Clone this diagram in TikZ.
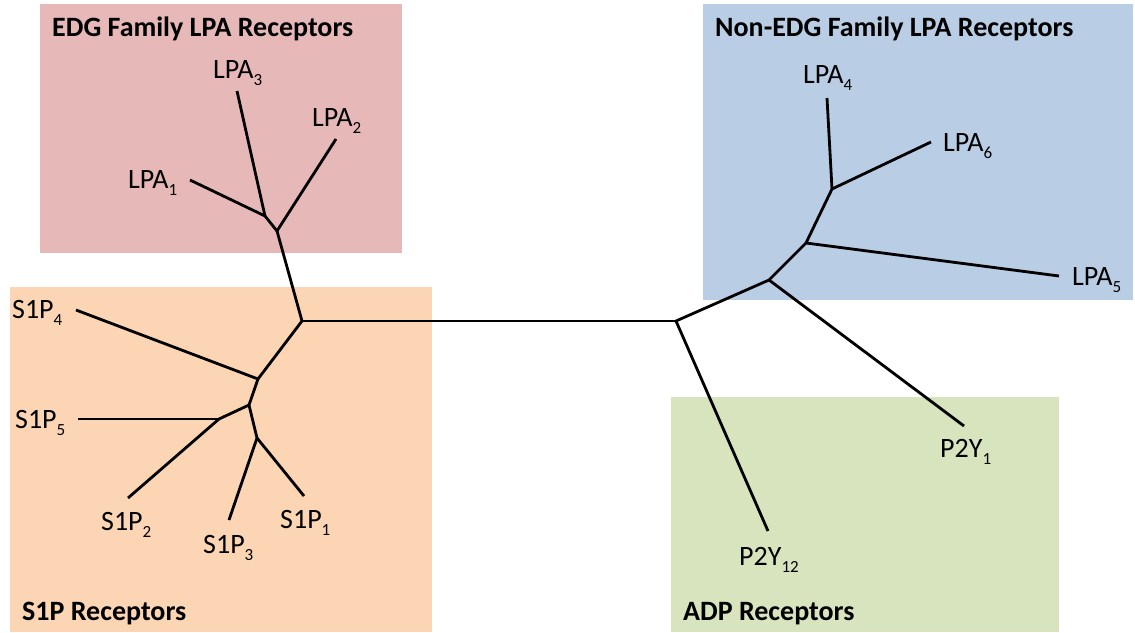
\documentclass[tikz,border=0pt]{standalone}
\usepackage{fontspec}
\setmainfont{Carlito}
\newcommand\lsub[1]{\raisebox{-0.26em}{\fontsize{17}{17}\selectfont #1}}
\definecolor{edgpink}{HTML}{E6B9B8}
\definecolor{s1porange}{HTML}{FCD5B5}
\definecolor{nonblue}{HTML}{B9CDE5}
\definecolor{adpgreen}{HTML}{D7E4BD}
\begin{document}
\begin{tikzpicture}[x=1pt,y=-1pt,
  lbl/.style={anchor=base west,inner sep=0pt,font=\fontsize{28}{32}\selectfont},
  ttl/.style={anchor=base west,inner sep=0pt,font=\fontsize{28}{32}\selectfont\bfseries},
  branch/.style={line width=2.8pt,line join=round}]
\useasboundingbox (0,0) rectangle (1135,632);
% boxes
\fill[edgpink] (40,4) rectangle (402,253);
\fill[s1porange] (10,287) rectangle (432,632);
\fill[nonblue] (703,4) rectangle (1133,300);
\fill[adpgreen] (671,397) rectangle (1059,632);
% titles
\node[ttl] (tEDG) at (52,36) {EDG Family LPA Receptors};
\node[ttl] (tNon) at (715,36) {Non-EDG Family LPA Receptors};
\node[ttl] (tS1P) at (22,620) {S1P Receptors};
\node[ttl] (tADP) at (683,620) {ADP Receptors};
% internal coordinates
\coordinate (R1) at (302,321);
\coordinate (R2) at (676,321);
\coordinate (A) at (277,231);
\coordinate (B) at (265,216);
\coordinate (C) at (258,379);
\coordinate (D) at (249,405);
\coordinate (E) at (219,419);
\coordinate (F) at (257,438);
\coordinate (G) at (769,280);
\coordinate (H) at (806,243);
\coordinate (I) at (832,189);
% leaf ends
\coordinate (eLPA1) at (190,180);
\coordinate (eLPA2) at (336,139);
\coordinate (eLPA3) at (237,91);
\coordinate (eS1P4) at (76,310);
\coordinate (eS1P5) at (78,419);
\coordinate (eS1P2) at (128,498);
\coordinate (eS1P3) at (229,520);
\coordinate (eS1P1) at (304,496);
\coordinate (eLPA4) at (827,98);
\coordinate (eLPA6) at (931,142);
\coordinate (eLPA5) at (1059,276);
\coordinate (eP2Y1) at (964,426);
\coordinate (eP2Y12) at (768,531);
% labels
\node[lbl] (LPA1) at (128,188) {LPA\lsub{1}};
\node[lbl] (LPA2) at (312,126) {LPA\lsub{2}};
\node[lbl] (LPA3) at (213,78) {LPA\lsub{3}};
\node[lbl] (S1P4) at (12,318) {S1P\lsub{4}};
\node[lbl] (S1P5) at (15,428) {S1P\lsub{5}};
\node[lbl] (S1P2) at (101,530) {S1P\lsub{2}};
\node[lbl] (S1P3) at (203,553) {S1P\lsub{3}};
\node[lbl] (S1P1) at (280,528) {S1P\lsub{1}};
\node[lbl] (LPA4) at (803,83) {LPA\lsub{4}};
\node[lbl] (LPA6) at (943,151) {LPA\lsub{6}};
\node[lbl] (LPA5) at (1072,285) {LPA\lsub{5}};
\node[lbl] (P2Y1) at (940,457) {P2Y\lsub{1}};
\node[lbl] (P2Y12) at (739,565) {P2Y\lsub{12}};
% branches
\draw[branch] (R1) -- (R2);
\draw[branch] (R1) -- (A);
\draw[branch] (A) -- (eLPA2);
\draw[branch] (A) -- (B);
\draw[branch] (B) -- (eLPA3);
\draw[branch] (B) -- (eLPA1);
\draw[branch] (R1) -- (C);
\draw[branch] (C) -- (eS1P4);
\draw[branch] (C) -- (D);
\draw[branch] (D) -- (E);
\draw[branch] (E) -- (eS1P5);
\draw[branch] (E) -- (eS1P2);
\draw[branch] (D) -- (F);
\draw[branch] (F) -- (eS1P3);
\draw[branch] (F) -- (eS1P1);
\draw[branch] (R2) -- (G);
\draw[branch] (R2) -- (eP2Y12);
\draw[branch] (G) -- (eP2Y1);
\draw[branch] (G) -- (H);
\draw[branch] (H) -- (eLPA5);
\draw[branch] (H) -- (I);
\draw[branch] (I) -- (eLPA4);
\draw[branch] (I) -- (eLPA6);
\end{tikzpicture}
\end{document}
